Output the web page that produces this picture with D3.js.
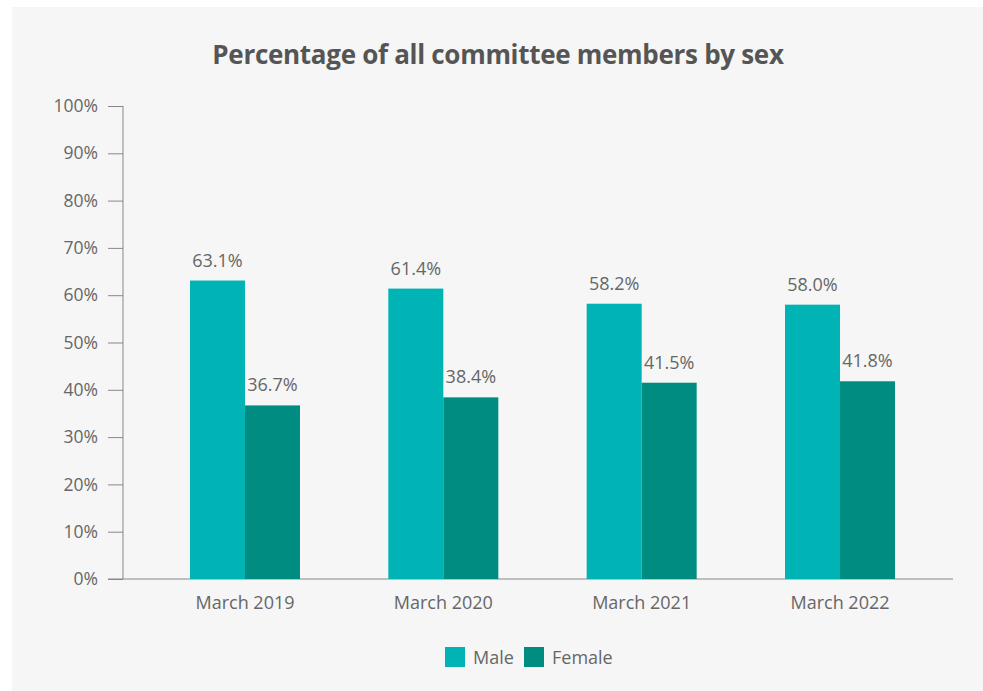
<!DOCTYPE html>
<meta charset="utf-8">
<style>
body { margin: 0; background: #fff; }
svg text { font-family: "Open Sans", "Noto Sans", sans-serif; }
.axis path, .axis line { stroke: #888; }
.axis text { fill: #666; font-size: 17.5px; }
</style>
<svg width="983" height="691"></svg>
<script src="https://d3js.org/d3.v7.min.js"></script>
<script>

var categories = ["March 2019", "March 2020", "March 2021", "March 2022"];
var series = ["Male", "Female"];
var male = [63.1, 61.4, 58.2, 58.0];
var female = [36.7, 38.4, 41.5, 41.8];
var yTicks = [0, 10, 20, 30, 40, 50, 60, 70, 80, 90, 100];

var colors = {Male: "#00b3b5", Female: "#008c80"};

var svg = d3.select("svg");

// panel background
svg.append("rect")
    .attr("x", 12).attr("y", 7)
    .attr("width", 971).attr("height", 684)
    .attr("fill", "#f6f6f6");

svg.append("text")
    .attr("x", 498).attr("y", 64)
    .attr("text-anchor", "middle")
    .attr("fill", "#555")
    .style("font-size", "26px")
    .style("font-weight", "bold")
    .style("letter-spacing", "-0.3px")
    .text("Percentage of all committee members by sex");

var y = d3.scaleLinear().domain([0, 100]).range([579, 106]);
var x = d3.scalePoint().domain(categories).range([245, 840]);
var barWidth = 55;

var data = categories.map(function(c, i) {
  return {cat: c, Male: male[i], Female: female[i]};
});

// y axis
var yAxis = svg.append("g")
    .attr("class", "axis")
    .attr("transform", "translate(123,0)")
    .call(d3.axisLeft(y).tickValues(yTicks).tickSize(15).tickPadding(10)
      .tickFormat(function(d) { return d + "%"; }));
yAxis.select(".domain").attr("d", "M0,106V579");

// x axis line
svg.append("line")
    .attr("x1", 108).attr("x2", 953)
    .attr("y1", y(0)).attr("y2", y(0))
    .attr("stroke", "#888");

svg.selectAll(".xlab")
  .data(categories)
  .enter().append("text")
    .attr("class", "xlab")
    .attr("x", function(d) { return x(d); })
    .attr("y", 609)
    .attr("text-anchor", "middle")
    .attr("fill", "#666")
    .style("font-size", "18px")
    .text(function(d) { return d; });

var group = svg.selectAll(".grp")
  .data(data)
  .enter().append("g")
    .attr("class", "grp")
    .attr("transform", function(d) { return "translate(" + x(d.cat) + ",0)"; });

series.forEach(function(s, k) {
  var off = k === 0 ? -barWidth : 0;
  group.append("rect")
    .attr("x", off)
    .attr("y", function(d) { return y(d[s]); })
    .attr("width", barWidth)
    .attr("height", function(d) { return y(0) - y(d[s]); })
    .attr("fill", colors[s]);
  group.append("text")
    .attr("x", off + barWidth / 2)
    .attr("y", function(d) { return y(d[s]) - 14; })
    .attr("text-anchor", "middle")
    .attr("fill", "#666")
    .style("font-size", "18px")
    .text(function(d) { return d[s].toFixed(1) + "%"; });
});

// legend
var legend = svg.append("g").attr("transform", "translate(445,647)");
var lx = [0, 79];
series.forEach(function(s, k) {
  legend.append("rect")
    .attr("x", lx[k]).attr("y", 0)
    .attr("width", 20).attr("height", 20)
    .attr("fill", colors[s]);
  legend.append("text")
    .attr("x", lx[k] + 28).attr("y", 17)
    .attr("fill", "#666")
    .style("font-size", "18px")
    .text(s);
});

</script>
